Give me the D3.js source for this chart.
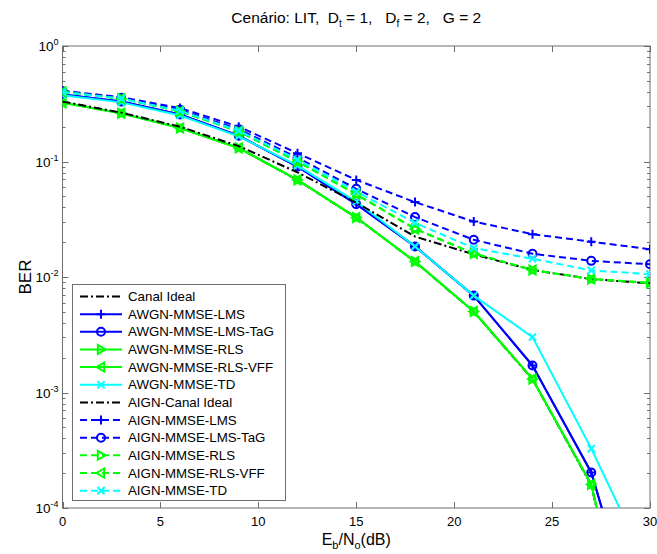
<!DOCTYPE html>
<html>
<head>
<meta charset="utf-8">
<script src="https://cdn.jsdelivr.net/npm/d3@7"></script>
<style>
  body { margin: 0; background: #fff; }
  text { font-family: "Liberation Sans", Arial, sans-serif; fill: #000; }
</style>
</head>
<body>
<div id="chart"></div>
<script>
// x values (Eb/No in dB)
var snr = [0, 3, 6, 9, 12, 15, 18, 21, 24, 27, 30];

// AWGN curves
var awgnIdeal = [0.33, 0.262, 0.196, 0.131, 0.069, 0.0327, 0.0136, 0.0050, 0.0013, 0.000158, 1.0e-6];
var awgnLms   = [0.38, 0.33, 0.255, 0.167, 0.0903, 0.0427, 0.0184, 0.0069, 0.00171, 0.000203, 3.9e-6];
var awgnTag   = [0.38, 0.33, 0.255, 0.167, 0.0903, 0.0427, 0.0184, 0.0069, 0.00171, 0.000203, 3.9e-6];
var awgnRls   = [0.323, 0.262, 0.195, 0.131, 0.0693, 0.0327, 0.0136, 0.00503, 0.00131, 0.00016, 1.1e-6];
var awgnVff   = [0.323, 0.262, 0.195, 0.131, 0.0693, 0.0327, 0.0136, 0.00503, 0.00131, 0.00016, 1.1e-6];
var awgnTd    = [0.375, 0.325, 0.25, 0.165, 0.092, 0.045, 0.0184, 0.0069, 0.00302, 0.000327, 2.8e-5];

// AIGN curves
var aignIdeal = [0.33, 0.265, 0.20, 0.136, 0.0805, 0.044, 0.0224, 0.0157, 0.0115, 0.0096, 0.0088];
var aignLms   = [0.41, 0.36, 0.29, 0.20, 0.118, 0.0693, 0.0445, 0.0302, 0.0235, 0.0202, 0.0174];
var aignTag   = [0.405, 0.355, 0.28, 0.19, 0.108, 0.058, 0.033, 0.021, 0.0159, 0.0138, 0.0129];
var aignRls   = [0.40, 0.35, 0.272, 0.182, 0.100, 0.052, 0.0261, 0.0160, 0.0115, 0.0096, 0.0089];
var aignVff   = [0.40, 0.35, 0.272, 0.182, 0.100, 0.052, 0.0261, 0.0160, 0.0115, 0.0096, 0.0089];
var aignTd    = [0.40, 0.35, 0.275, 0.185, 0.104, 0.055, 0.0294, 0.0178, 0.0144, 0.0114, 0.0106];

var xTicks = [0, 5, 10, 15, 20, 25, 30];
var yTicks = [1, 0.1, 0.01, 0.001, 0.0001];
var yTickExp = ["0", "-1", "-2", "-3", "-4"];

var series = [
  {name: "Canal Ideal",        v: awgnIdeal, color: "#000000", dash: "8,3,2,3", marker: null},
  {name: "AWGN-MMSE-LMS",      v: awgnLms,   color: "#0000ff", dash: null, marker: "plus"},
  {name: "AWGN-MMSE-LMS-TaG",  v: awgnTag,   color: "#0000ff", dash: null, marker: "circle"},
  {name: "AWGN-MMSE-RLS",      v: awgnRls,   color: "#00ff00", dash: null, marker: "right"},
  {name: "AWGN-MMSE-RLS-VFF",  v: awgnVff,   color: "#00ff00", dash: null, marker: "left"},
  {name: "AWGN-MMSE-TD",       v: awgnTd,    color: "#00ffff", dash: null, marker: "x"},
  {name: "AIGN-Canal Ideal",   v: aignIdeal, color: "#000000", dash: "8,3,2,3", marker: null},
  {name: "AIGN-MMSE-LMS",      v: aignLms,   color: "#0000ff", dash: "7,4", marker: "plus"},
  {name: "AIGN-MMSE-LMS-TaG",  v: aignTag,   color: "#0000ff", dash: "7,4", marker: "circle"},
  {name: "AIGN-MMSE-RLS",      v: aignRls,   color: "#00ff00", dash: "7,4", marker: "right"},
  {name: "AIGN-MMSE-RLS-VFF",  v: aignVff,   color: "#00ff00", dash: "7,4", marker: "left"},
  {name: "AIGN-MMSE-TD",       v: aignTd,    color: "#00ffff", dash: "7,4", marker: "x"}
];

var svgWidth = 657, svgHeight = 554;
var pLeft = 62.5, pRight = 650, pTop = 46, pBottom = 508;

var svg = d3.select("#chart").append("svg")
  .attr("width", svgWidth)
  .attr("height", svgHeight);

var x = d3.scaleLinear().domain([0, 30]).range([pLeft, pRight]);
var y = d3.scaleLog().domain([1e-4, 1]).range([pBottom, pTop]);

svg.append("defs").append("clipPath").attr("id", "plotclip")
  .append("rect").attr("x", pLeft).attr("y", pTop)
  .attr("width", pRight - pLeft).attr("height", pBottom - pTop);

// axis box
var axColor = "#6e6e6e";
svg.append("rect")
  .attr("x", pLeft).attr("y", pTop)
  .attr("width", pRight - pLeft).attr("height", pBottom - pTop)
  .attr("fill", "none").attr("stroke", axColor).attr("stroke-width", 1);

// x ticks (inside, bottom and top)
var gx = svg.append("g");
xTicks.forEach(function(t) {
  var px = Math.round(x(t)) + 0.5;
  gx.append("line").attr("x1", px).attr("x2", px).attr("y1", pBottom).attr("y2", pBottom - 6)
    .attr("stroke", axColor);
  gx.append("line").attr("x1", px).attr("x2", px).attr("y1", pTop).attr("y2", pTop + 6)
    .attr("stroke", axColor);
  gx.append("text").attr("x", x(t)).attr("y", pBottom + 18)
    .attr("text-anchor", "middle").style("font-size", "13px").text(t);
});

// y ticks, major and minor, both sides
var gy = svg.append("g");
for (var e = -4; e < 0; e++) {
  for (var k = 2; k <= 9; k++) {
    var py = Math.round(y(k * Math.pow(10, e))) + 0.5;
    gy.append("line").attr("x1", pLeft).attr("x2", pLeft + 3).attr("y1", py).attr("y2", py).attr("stroke", axColor);
    gy.append("line").attr("x1", pRight).attr("x2", pRight - 3).attr("y1", py).attr("y2", py).attr("stroke", axColor);
  }
}
yTicks.forEach(function(t, i) {
  var py = Math.round(y(t)) + 0.5;
  gy.append("line").attr("x1", pLeft).attr("x2", pLeft + 6).attr("y1", py).attr("y2", py).attr("stroke", axColor);
  gy.append("line").attr("x1", pRight).attr("x2", pRight - 6).attr("y1", py).attr("y2", py).attr("stroke", axColor);
  var lab = gy.append("text").attr("x", pLeft - 4).attr("y", y(t) + 5)
    .attr("text-anchor", "end").style("font-size", "13.5px");
  lab.append("tspan").text("10");
  lab.append("tspan").attr("dy", -6).style("font-size", "9px").text(yTickExp[i]);
});

// marker shapes
function markerPath(type, s) {
  if (type === "plus") return "M" + (-s) + ",0H" + s + "M0," + (-s) + "V" + s;
  if (type === "x") { var a = s * 0.8; return "M" + (-a) + "," + (-a) + "L" + a + "," + a + "M" + (-a) + "," + a + "L" + a + "," + (-a); }
  if (type === "right") return "M" + (-s * 0.7) + "," + (-s) + "L" + s + ",0L" + (-s * 0.7) + "," + s + "Z";
  if (type === "left") return "M" + (s * 0.7) + "," + (-s) + "L" + (-s) + ",0L" + (s * 0.7) + "," + s + "Z";
  return null;
}
function drawMarker(g, type, cx, cy, color) {
  if (!type) return;
  if (type === "circle") {
    g.append("circle").attr("cx", cx).attr("cy", cy).attr("r", 4)
      .attr("fill", "none").attr("stroke", color).attr("stroke-width", 2);
  } else {
    g.append("path").attr("d", markerPath(type, 4.5))
      .attr("transform", "translate(" + cx + "," + cy + ")")
      .attr("fill", "none").attr("stroke", color).attr("stroke-width", 2);
  }
}

var plot = svg.append("g").attr("clip-path", "url(#plotclip)");
var line = d3.line()
  .x(function(d, i) { return x(snr[i]); })
  .y(function(d) { return y(d); });

series.forEach(function(s) {
  var g = plot.append("g");
  g.append("path").datum(s.v)
    .attr("d", line)
    .attr("fill", "none")
    .attr("stroke", s.color)
    .attr("stroke-width", 2)
    .attr("stroke-dasharray", s.dash);
  s.v.forEach(function(d, i) {
    drawMarker(g, s.marker, x(snr[i]), y(d), s.color);
  });
});

// legend
var lg = svg.append("g");
lg.append("rect").attr("x", 72.5).attr("y", 284.5).attr("width", 213).attr("height", 216)
  .attr("fill", "#fff").attr("stroke", axColor);
series.forEach(function(s, i) {
  var ly = 296.5 + i * 17.65;
  lg.append("line").attr("x1", 80).attr("x2", 122).attr("y1", ly).attr("y2", ly)
    .attr("stroke", s.color).attr("stroke-width", 2).attr("stroke-dasharray", s.dash);
  drawMarker(lg, s.marker, 101, ly, s.color);
  lg.append("text").attr("x", 128).attr("y", ly + 4.5).style("font-size", "13.3px").text(s.name);
});

// title
var title = svg.append("text").attr("x", (pLeft + pRight) / 2).attr("y", 23)
  .attr("text-anchor", "middle").style("font-size", "15.5px").style("white-space", "pre");
title.append("tspan").text("Cenário: LIT,  D");
title.append("tspan").attr("dy", 4).style("font-size", "10px").text("t");
title.append("tspan").attr("dy", -4).text(" = 1,   D");
title.append("tspan").attr("dy", 4).style("font-size", "10px").text("f");
title.append("tspan").attr("dy", -4).text(" = 2,   G = 2");

// axis labels
var xl = svg.append("text").attr("x", (pLeft + pRight) / 2).attr("y", 545)
  .attr("text-anchor", "middle").style("font-size", "16px");
xl.append("tspan").text("E");
xl.append("tspan").attr("dy", 4).style("font-size", "11px").text("b");
xl.append("tspan").attr("dy", -4).text("/N");
xl.append("tspan").attr("dy", 4).style("font-size", "11px").text("o");
xl.append("tspan").attr("dy", -4).text("(dB)");

svg.append("text")
  .attr("transform", "translate(31," + ((pTop + pBottom) / 2) + ") rotate(-90)")
  .attr("text-anchor", "middle").style("font-size", "17px").text("BER");
</script>
</body>
</html>
